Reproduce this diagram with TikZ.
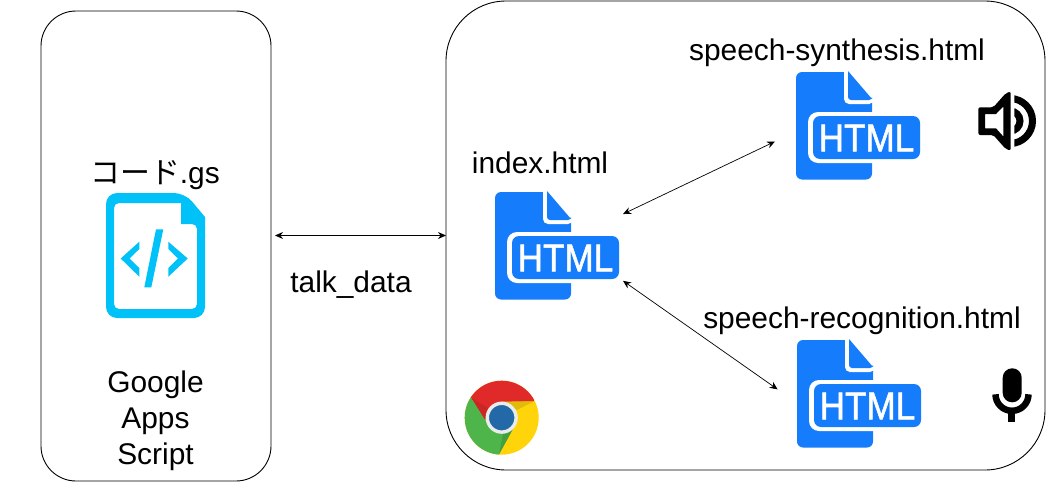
\documentclass[tikz,border=0pt]{standalone}
\usepackage{fontspec}
\usepackage{xcolor}
\setmainfont{Liberation Sans}
\newfontfamily\cjk{Noto Sans CJK JP}
\usetikzlibrary{arrows.meta}
\definecolor{htmlblue}{RGB}{21,125,252}
\definecolor{gscyan}{RGB}{0,193,248}
\definecolor{chromered}{RGB}{224,42,42}
\definecolor{chromegreen}{RGB}{77,181,74}
\definecolor{chromeyellow}{RGB}{255,212,10}
\definecolor{chromeblue}{RGB}{35,105,168}
\tikzset{
  roundbox/.style={draw=black, line width=0.9pt, inner sep=0pt, outer sep=0pt},
  label/.style={font=\fontsize{29.9}{36}\selectfont, align=center, inner sep=0pt},
  link/.style={<->, >={Stealth[length=8pt,width=7pt]}, line width=0.7pt},
  htmlicon/.pic={
    \fill[htmlblue, rounded corners=6pt] (0,0) rectangle (76,107.5);
    \fill[white, rounded corners=5pt] (48,-2) -- (48,32) -- (78,32) -- (78,-2) [sharp corners] -- cycle;
    \fill[htmlblue, rounded corners=3pt] (52,-1) -- (52,28) -- (76,28) [sharp corners] -- (76,27) -- cycle;
    \fill[white, rounded corners=10pt] (12,40) rectangle (130,91);
    \fill[htmlblue, rounded corners=7pt] (17,44) rectangle (124,87);
    \node[text=white, inner sep=0pt, xscale=0.9, font=\fontsize{39}{39}\selectfont] (-text) at (70.5,66) {\addfontfeature{FakeBold=1.5}HTML};
    \node[inner sep=0pt, outer sep=3pt, minimum width=125pt, minimum height=108pt] (-box) at (62.5,54) {};
  }
}
\begin{document}
\begin{tikzpicture}[x=1pt, y=-1pt]
\useasboundingbox (0,0) rectangle (1047,482);

% Outer boxes
\node[roundbox, rounded corners=35pt, minimum width=230pt, minimum height=470pt] (gas) at (156,246) {};
\node[roundbox, rounded corners=60pt, minimum width=599pt, minimum height=469pt] (browser) at (745.5,235.5) {};

% Script file icon
\fill[gscyan, even odd rule, rounded corners=11pt] (106,193) -- (185,193) [sharp corners] -- (205,217) [rounded corners=11pt] -- (205,318) -- (106,318) -- cycle
  [rounded corners=5pt] (114,203) -- (114,309) -- (197,309) -- (197,224) [sharp corners] -- (181,224) -- (181,203) [rounded corners=5pt] -- cycle;
\fill[gscyan] (120.7,258.5) -- (139.3,241.7) -- (139.3,249) -- (129.5,258.5) -- (139.3,268) -- (139.3,276.7) -- cycle;
\fill[gscyan] (187.7,258.5) -- (168.3,241.7) -- (168.3,249) -- (178,258.5) -- (168.3,268) -- (168.3,276.7) -- cycle;
\fill[gscyan] (156,229.3) -- (163.3,229.3) -- (151.3,287.3) -- (144.3,287.3) -- cycle;

% HTML icons
\pic (index) at (495,192) {htmlicon};
\pic (synth) at (796,72) {htmlicon};
\pic (recog) at (797,340) {htmlicon};

% Chrome logo
\begin{scope}
\clip (501.7,417.7) circle[radius=37];
\fill[chromeyellow] (460,375) rectangle (545,460);
\fill[chromeyellow!88!black] (534.3,401) -- (501.7,401.7) -- (517,410) -- cycle;
\fill[chromered] (485,420) -- (471,397.7) -- (450,370) -- (550,370) -- (534.3,401) -- (501.7,401.7) -- cycle;
\fill[chromered!90!black] (471,397.7) -- (485,420) -- (488,408) -- cycle;
\fill[chromegreen] (471,397.7) -- (450,385) -- (450,470) -- (499,454.3) -- (513.3,428.3) -- (485,420) -- cycle;
\fill[chromegreen!88!black] (499,454.3) -- (513.3,428.3) -- (503,434) -- cycle;
\end{scope}
\fill[chromeblue, draw=black!8, line width=3.4pt] (501.7,417.7) circle[radius=14.4];

% Speaker
\fill[black, even odd rule, rounded corners=2pt] (978.3,107.3) -- (993.3,107.3) -- (1005.7,93.3) -- (1010.7,91.5) -- (1010.7,150.5) -- (1005.7,149) -- (993.3,135) -- (978.3,135) -- cycle
  [sharp corners] (985,114) -- (985,128.3) -- (996,128.3) -- (1003.3,136.5) -- (1003.3,106.5) -- (996,114) -- cycle;
\begin{scope}
\clip (1014.3,85) rectangle (1045,160);
\draw[line width=7pt] (1010,121) circle[radius=22.5];
\draw[line width=7pt] (1010,121) circle[radius=10];
\end{scope}

% Microphone
\fill[black, rounded corners=9.4pt] (1002.7,368.3) rectangle (1021.7,402.3);
\draw[line width=6.5pt] (995.5,394.3) arc[start angle=180, end angle=0, radius=16.5];
\fill[black] (1008.4,410) rectangle (1015,421.7);

% Labels
\node[label] (gslabel) at (155,175) {{\cjk コード}.gs};
\node[label] (gasname) at (155.5,421) {Google\\Apps\\Script};
\node[label] (talk) at (351,285) {talk\_data};
\node[label] (indexname) at (540,163) {index.html};
\node[label] (synthname) at (837,53) {speech-synthesis.html};
\node[label] (recogname) at (862,321) {speech-recognition.html};

% Connectors
\draw[link, shorten <=4pt] (gas.east |- browser.west) -- (browser.west);
\draw[link, shorten >=20pt] (index-box.26) -- (synth-box.186.6);
\draw[link, shorten >=20pt] (index-box.-28.8) -- (recog-box.186);
\end{tikzpicture}
\end{document}
